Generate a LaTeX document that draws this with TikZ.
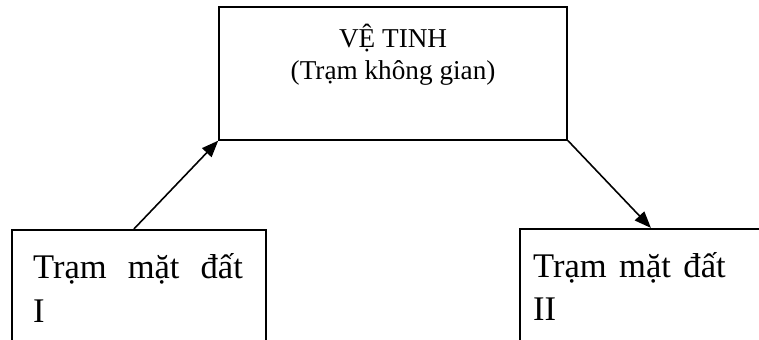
\documentclass[tikz,border=0pt]{standalone}
\usepackage{fontspec}
\setmainfont{Liberation Serif}
\usetikzlibrary{arrows.meta,positioning}

\tikzset{
  box/.style={draw, line width=1.2pt, inner sep=0pt},
  link/.style={line width=1.2pt, -{Triangle[length=4.4mm,width=3.4mm]}},
  toptext/.style={font=\fontsize{20.5}{24}\selectfont, align=center, inner sep=0pt},
  stationtext/.style={font={\fontsize{26}{33}\selectfont\spaceskip=#1\relax}, align=left, inner sep=0pt},
}

\begin{document}
\begin{tikzpicture}
  \useasboundingbox (0,0) rectangle (20.08,8.97);
  %% satellite
  \node[box, minimum width=9.21cm, minimum height=3.52cm] (sat) at (10.40,7.03) {};
  \node[toptext, anchor=north] (sattext) at ([yshift=-0.48cm]sat.north) {VỆ TINH\\(Trạm không gian)};
  %% ground stations, running off the page
  \node[box, minimum width=6.72cm, minimum height=4cm, anchor=north west] (st1) at (0.29,2.91) {};
  \node[box, minimum width=6.94cm, minimum height=4cm, anchor=north west] (st2) at (13.73,2.94) {};
  % base anchor sits on the last line
  \node[stationtext=0.61em, anchor=base west] (st1text) at ([xshift=5.8mm,yshift=-24.6mm]st1.north west) {Trạm mặt đất\\I};
  \node[stationtext=0.36em, anchor=base west] (st2text) at ([xshift=3.7mm,yshift=-24.6mm]st2.north west) {Trạm mặt đất\\II};
  %% links
  \draw[link] ([xshift=-1.3mm]st1.north) -- (sat.south west);
  \draw[link] (sat.south east) -- (st2.north);
\end{tikzpicture}
\end{document}
